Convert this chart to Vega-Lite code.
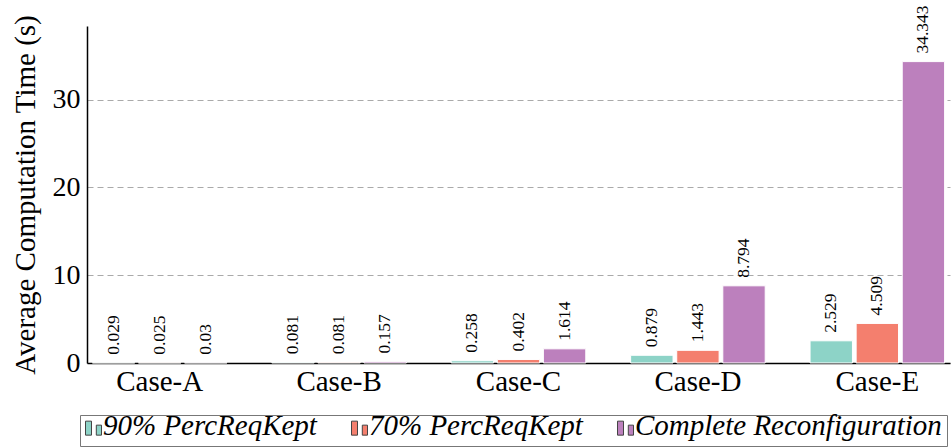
{
  "$schema": "https://vega.github.io/schema/vega-lite/v6.json",
  "autosize": {"type": "none"},
  "padding": {"left": 87, "top": 26, "right": 2, "bottom": 85},
  "width": 863,
  "height": 337,
  "background": "white",
  "config": {
    "view": {"stroke": null},
    "font": "Liberation Serif",
    "axis": {"labelFont": "Liberation Serif", "titleFont": "Liberation Serif", "labelColor": "black", "titleColor": "black"},
    "legend": {"strokeColor": "#777777"}
  },
  "data": {
    "values": [
      {"case": "Case-A", "series": "90% PercReqKept", "value": 0.029},
      {"case": "Case-A", "series": "70% PercReqKept", "value": 0.025},
      {"case": "Case-A", "series": "Complete Reconfiguration", "value": 0.03},
      {"case": "Case-B", "series": "90% PercReqKept", "value": 0.081},
      {"case": "Case-B", "series": "70% PercReqKept", "value": 0.081},
      {"case": "Case-B", "series": "Complete Reconfiguration", "value": 0.157},
      {"case": "Case-C", "series": "90% PercReqKept", "value": 0.258},
      {"case": "Case-C", "series": "70% PercReqKept", "value": 0.402},
      {"case": "Case-C", "series": "Complete Reconfiguration", "value": 1.614},
      {"case": "Case-D", "series": "90% PercReqKept", "value": 0.879},
      {"case": "Case-D", "series": "70% PercReqKept", "value": 1.443},
      {"case": "Case-D", "series": "Complete Reconfiguration", "value": 8.794},
      {"case": "Case-E", "series": "90% PercReqKept", "value": 2.529},
      {"case": "Case-E", "series": "70% PercReqKept", "value": 4.509},
      {"case": "Case-E", "series": "Complete Reconfiguration", "value": 34.343}
    ]
  },
  "encoding": {
    "x": {
      "field": "case", "type": "nominal",
      "scale": {"paddingInner": 0.25, "paddingOuter": 0.03},
      "axis": {"title": null, "labelAngle": 0, "labelFontSize": 29, "ticks": false, "labelPadding": 4, "domainColor": "black", "domainWidth": 1.5, "grid": false}
    },
    "xOffset": {
      "field": "series", "type": "nominal",
      "sort": ["90% PercReqKept", "70% PercReqKept", "Complete Reconfiguration"],
      "scale": {"paddingInner": 0.08}
    },
    "y": {
      "field": "value", "type": "quantitative",
      "scale": {"domain": [0, 38.4], "nice": false},
      "axis": {
        "title": "Average Computation Time (s)", "titleFontSize": 29, "titleFontWeight": "normal", "titlePadding": 12,
        "labelFontSize": 28, "ticks": false, "labelPadding": 7, "values": [0, 10, 20, 30],
        "domainColor": "black", "domainWidth": 1.5,
        "grid": true, "gridDash": [6, 4], "gridColor": "#aaaaaa", "gridWidth": 1.2
      }
    }
  },
  "layer": [
    {
      "mark": {"type": "bar", "stroke": "white", "strokeWidth": 1},
      "encoding": {
        "color": {
          "field": "series", "type": "nominal",
          "scale": {
            "domain": ["90% PercReqKept", "70% PercReqKept", "Complete Reconfiguration"],
            "range": ["#8dd3c7", "#f47f6e", "#bc80bd"]
          },
          "legend": {
            "title": null,
            "orient": "none",
            "direction": "horizontal",
            "legendX": -7,
            "legendY": 389,
            "labelFont": "Liberation Serif",
            "labelFontSize": 29,
            "labelFontStyle": "italic",
            "labelColor": "black",
            "labelBaseline": "alphabetic",
            "labelOffset": -5,
            "labelLimit": 400,
            "columnPadding": 32,
            "symbolOffset": -6,
            "symbolType": "M-1,-1.7H-0.25V0.05H-1Z M0.35,-1.2H1V0.05H0.35Z",
            "symbolSize": 256,
            "symbolStrokeColor": "#444444",
            "symbolStrokeWidth": 1,
            "symbolOpacity": 1,
            "padding": 5,
            "strokeColor": "#777777",
            "fillColor": "white"
          }
        }
      }
    },
    {
      "mark": {"type": "text", "angle": 270, "align": "left", "baseline": "middle", "dx": 8, "fontSize": 17.5, "font": "Liberation Serif", "color": "black"},
      "encoding": {
        "text": {"field": "value", "type": "quantitative"}
      }
    }
  ]
}
